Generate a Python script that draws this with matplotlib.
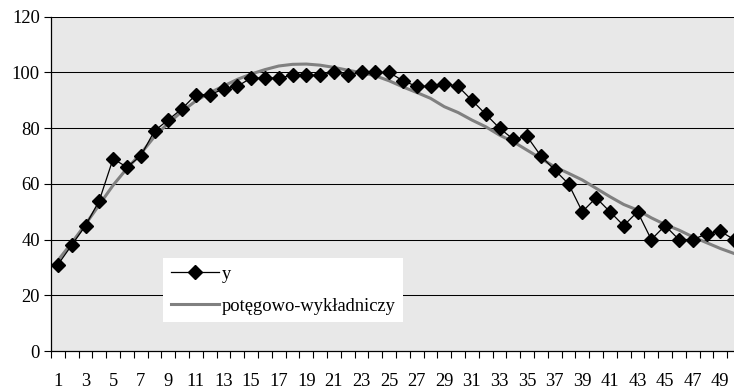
import matplotlib as mpl
mpl.use('Agg')
import matplotlib.pyplot as plt
import numpy as np

# observations 1..50 and the fitted power-exponential trend
x = list(range(1, 51))
y = [31, 38, 45, 54, 69, 66, 70, 79, 83, 87,
     92, 92, 94, 95, 98, 98, 98, 99, 99, 99,
     100, 99, 100, 100, 100, 97, 95, 95, 96, 95,
     90, 85, 80, 76, 77, 70, 65, 60, 50, 55,
     50, 45, 50, 40, 45, 40, 40, 42, 43, 40]
trend = [32.5, 38.8, 45.5, 52.5, 59.5, 65.5, 70.8, 77.0, 81.8, 86.0,
         89.8, 92.7, 95.1, 97.5, 99.4, 101.0, 102.3, 102.9, 103.0, 102.6,
         101.8, 100.8, 99.9, 98.8, 97.0, 94.8, 92.8, 90.7, 87.7, 85.6,
         82.9, 80.5, 77.5, 75.1, 72.1, 69.1, 66.1, 63.8, 61.4, 58.4,
         55.4, 52.6, 50.6, 47.8, 45.4, 43.4, 41.0, 38.9, 36.8, 35.0]
yticks = [0, 20, 40, 60, 80, 100, 120]
xlabels = [str(i) for i in range(1, 51, 2)]

plt.rcParams['font.family'] = ['Liberation Serif', 'DejaVu Serif']
fs = 13.3

fig = plt.figure(figsize=(7.34, 3.92), dpi=100)
ax = fig.add_axes([51 / 734, 41 / 392, 690 / 734, 334.3 / 392])
ax.set_facecolor('#e8e8e8')

ax.plot(x, y, color='black', lw=0.9, marker='D', ms=6.8,
        mfc='black', mec='black', label='y', zorder=3)
ax.plot(x, trend, color='#808080', lw=2.2, label='potęgowo-wykładniczy',
        zorder=2)

ax.set_xlim(0.5, 50.5)
ax.set_ylim(0, 120)
ax.set_yticks(yticks)
ax.tick_params(axis='y', labelsize=fs, length=5, width=0.8,
               direction='out', pad=3)
for v in yticks[1:]:
    ax.axhline(v, color='black', lw=0.75, zorder=1)

# tick marks between categories, labels on odd categories
ax.set_xticks(np.arange(0.5, 51, 1))
ax.set_xticklabels([])
ax.tick_params(axis='x', which='major', length=5, width=0.8,
               direction='out')
ax.set_xticks(range(1, 51, 2), minor=True)
ax.set_xticklabels(xlabels, minor=True)
ax.tick_params(axis='x', which='minor', length=0, labelsize=fs, pad=16)

for side in ['top', 'right']:
    ax.spines[side].set_visible(False)
for side in ['left', 'bottom']:
    ax.spines[side].set_linewidth(0.9)

leg = ax.legend(loc='upper left', bbox_to_anchor=(163 / 734, 1 - 258 / 392),
                bbox_transform=fig.transFigure, borderaxespad=0,
                fontsize=fs, handlelength=2.6, handletextpad=0.15,
                labelspacing=0.8, borderpad=0.42, fancybox=False,
                framealpha=1, facecolor='white', edgecolor='none')

fig.savefig('out.png', dpi=100)
